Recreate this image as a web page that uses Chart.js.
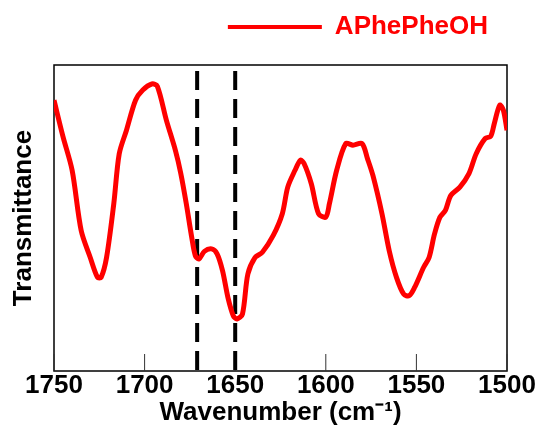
<!DOCTYPE html>
<html>
<head>
<meta charset="utf-8">
<script src="https://cdn.jsdelivr.net/npm/chart.js@4"></script>
<style>
  html, body { margin: 0; padding: 0; background: #fff; }
  #wrap { width: 539px; height: 425px; }
</style>
</head>
<body>
<div id="wrap"><canvas id="irChart"></canvas></div>
<script>
const seriesName = 'APhePheOH';
const wavenumbers = [1750, 1745, 1740, 1735, 1730, 1726, 1724, 1721, 1717, 1714, 1710, 1705, 1701, 1696, 1693, 1688,
  1683, 1680, 1677, 1674, 1672, 1670, 1667, 1663, 1660, 1657, 1654, 1651, 1649, 1646, 1643, 1639, 1635, 1629, 1624,
  1621, 1617, 1614, 1612, 1608, 1604, 1600, 1598, 1594, 1589, 1585, 1580, 1577, 1574, 1569, 1565, 1561, 1557, 1554,
  1551, 1546, 1543, 1540, 1537, 1534, 1531, 1526, 1521, 1517, 1512, 1509, 1507, 1504, 1502, 1500];
const transmittance = [88.5, 76.5, 65.6, 45.9, 37.1, 30.6, 30.6, 37.1, 54.7, 71.0, 78.7, 88.5, 91.8, 93.8, 93.1, 82.0,
  72.1, 64.5, 54.7, 43.7, 37.7, 36.6, 39.1, 39.9, 38.3, 32.8, 24.0, 18.0, 17.0, 18.6, 31.7, 37.1, 38.8, 44.3, 51.4,
  60.1, 65.6, 68.9, 67.8, 61.2, 51.4, 50.3, 54.7, 65.6, 74.3, 73.8, 74.3, 69.4, 63.9, 51.4, 39.3, 30.6, 25.1, 24.6,
  27.3, 33.9, 37.1, 44.8, 50.3, 52.5, 57.4, 60.1, 64.5, 71.0, 76.0, 76.7, 80.9, 86.9, 85.2, 78.7];
// dashed reference lines (cm-1) and the span they cover
const markerPositions = [1671, 1650];
const markerRange = [98, 0];
const xTicks = [1750, 1700, 1650, 1600, 1550, 1500];

Chart.defaults.font.family = '"Liberation Sans", Arial, sans-serif';
Chart.defaults.color = '#000';

// frame round the plot + short tick marks pointing inwards
const framePlugin = {
  id: 'frame',
  beforeDatasetsDraw(chart) {
    const { ctx, chartArea: a, scales: { x } } = chart;
    ctx.save();
    ctx.strokeStyle = '#000';
    ctx.lineWidth = 1.5;
    ctx.strokeRect(a.left, a.top, a.right - a.left, a.bottom - a.top);
    ctx.lineWidth = 1;
    ctx.strokeStyle = '#333';
    x.ticks.forEach(t => {
      const px = x.getPixelForValue(t.value);
      ctx.beginPath();
      ctx.moveTo(px, a.bottom);
      ctx.lineTo(px, a.bottom - 17);
      ctx.stroke();
    });
    ctx.restore();
  }
};

// extra room under the legend and push it a bit left
const legendGap = {
  id: 'legendGap',
  beforeInit(chart) {
    const fit = chart.legend.fit;
    chart.legend.fit = function () {
      fit.call(this);
      this.height += 15;
      this.lineWidths[0] += 9;
    };
  }
};

const datasets = [{
  label: seriesName,
  data: wavenumbers.map((w, i) => ({ x: w, y: transmittance[i] })),
  borderColor: '#ff0000',
  backgroundColor: '#ff0000',
  borderWidth: 5,
  borderJoinStyle: 'round',
  pointRadius: 0,
  tension: 0.3,
  order: 0
}];
markerPositions.forEach(m => {
  datasets.push({
    label: 'marker ' + m,
    data: markerRange.map(y => ({ x: m, y: y })),
    borderColor: '#000',
    borderWidth: 4,
    borderDash: [19, 9],
    pointRadius: 0,
    order: 1
  });
});

new Chart(document.getElementById('irChart'), {
  type: 'line',
  data: { datasets: datasets },
  plugins: [framePlugin, legendGap],
  options: {
    responsive: true,
    maintainAspectRatio: false,
    animation: false,
    events: [],
    layout: { padding: { top: 4, right: 32, bottom: 0, left: 0 } },
    plugins: {
      tooltip: { enabled: false },
      legend: {
        position: 'top',
        align: 'end',
        labels: {
          boxWidth: 94,
          boxHeight: 4,
          padding: 10,
          color: '#ff0000',
          font: { size: 26, weight: 'bold' },
          generateLabels(chart) {
            return Chart.defaults.plugins.legend.labels.generateLabels(chart)
              .filter(l => l.datasetIndex === 0)
              .map(l => Object.assign(l, { lineWidth: 0, fillStyle: '#ff0000', fontColor: '#ff0000' }));
          }
        }
      }
    },
    scales: {
      x: {
        type: 'linear',
        reverse: true,
        min: 1500,
        max: 1750,
        afterBuildTicks: s => { s.ticks = xTicks.map(v => ({ value: v })); },
        grid: { display: false, drawTicks: false },
        border: { display: false },
        ticks: {
          padding: 2,
          maxRotation: 0,
          callback: v => String(v),
          font: { size: 26, weight: 'bold', lineHeight: 1 }
        },
        title: {
          display: true,
          text: 'Wavenumber (cm\u207B\u00B9)',
          padding: { top: -1, bottom: -1 },
          font: { size: 26, weight: 'bold', lineHeight: 1 }
        }
      },
      y: {
        min: 0,
        max: 100,
        afterFit: s => { s.width = 54; },
        grid: { display: false, drawTicks: false },
        border: { display: false },
        ticks: { display: false },
        title: {
          display: true,
          text: 'Transmittance',
          padding: { top: 11, bottom: 0 },
          font: { size: 26, weight: 'bold', lineHeight: 1 }
        }
      }
    }
  }
});
</script>
</body>
</html>
